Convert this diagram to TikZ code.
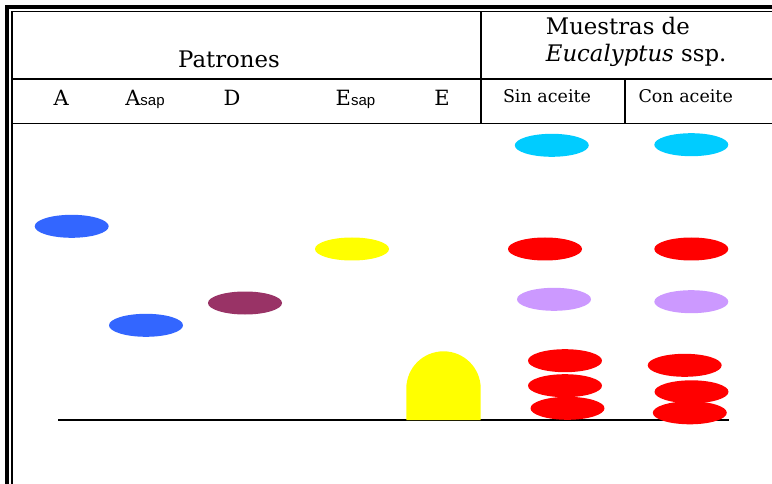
\documentclass[tikz,border=0pt]{standalone}
\usepackage{fontspec}
\setmainfont{DejaVu Serif}
\newfontfamily\sapfont{Liberation Sans}
\usetikzlibrary{shapes.geometric}
\definecolor{spotblue}{HTML}{3366FF}
\definecolor{spotwine}{HTML}{993366}
\definecolor{spotyellow}{HTML}{FFFF00}
\definecolor{spotcyan}{HTML}{00CCFF}
\definecolor{spotred}{HTML}{FF0000}
\definecolor{spotlilac}{HTML}{CC99FF}
\newcommand{\headtxt}{\fontsize{22.8}{26}\selectfont}
\newcommand{\bigtxt}{\fontsize{21}{24}\selectfont}
\newcommand{\smalltxt}{\fontsize{17.5}{20}\selectfont}
\newcommand{\sapsub}{{\sapfont\fontsize{15}{17}\selectfont sap}}
\tikzset{
  spot/.style={ellipse,minimum width=74pt,minimum height=23pt,inner sep=0pt,draw=none},
  rule/.style={line width=1.6pt},
  collabel/.style={anchor=base,inner sep=0pt,font=\bigtxt},
  oillabel/.style={anchor=base,inner sep=0pt,font=\smalltxt}
}

\begin{document}
\begin{tikzpicture}[x=1pt,y=-1pt]
\useasboundingbox (0,0) rectangle (772,484);
\fill[white] (0,0) rectangle (772,484);
% frame
\draw[line width=4pt] (7,490) -- (7,7) -- (780,7);
\draw[line width=1.8pt] (11.8,490) -- (11.8,11.6) -- (780,11.6);
% table rules
\draw[rule] (11.8,79) -- (780,79);
\draw[rule] (11.8,123.5) -- (780,123.5);
\draw[rule] (480.7,11.6) -- (480.7,123.5);
\draw[rule] (625,79) -- (625,123.5);
% headings
\node[anchor=base,inner sep=0pt,font=\headtxt] (pat) at (229,67.7) {Patrones};
\node[anchor=base west,inner sep=0pt,font=\headtxt] (mue) at (545.7,35) {Muestras de};
\node[anchor=base west,inner sep=0pt,font=\headtxt] (euc) at (545.7,61.7) {\textit{Eucalyptus} ssp.};
\node[collabel] (lA) at (61.3,106) {A};
\node[collabel] (lAsap) at (145,106) {A\sapsub};
\node[collabel] (lD) at (232,106) {D};
\node[collabel] (lEsap) at (355.5,106) {E\sapsub};
\node[collabel] (lE) at (442,106) {E};
\node[oillabel] (lsin) at (547,102.3) {Sin aceite};
\node[oillabel] (lcon) at (685.7,102.3) {Con aceite};
% origin line
\coordinate (o1) at (58.3,420);
\coordinate (o2) at (729.3,420);
\draw[rule] (o1) -- (o2);
% standards
\node[spot,fill=spotblue] (sA) at (71.7,226.3) {};
\node[spot,fill=spotblue] (sAsap) at (146,325.3) {};
\node[spot,fill=spotwine] (sD) at (245,303) {};
\node[spot,fill=spotyellow] (sEsap) at (352,249) {};
\fill[spotyellow] (406.3,420) -- (406.3,388.5) arc (180:360:37.2) -- (480.7,420) -- cycle;
% samples without oil
\node[spot,fill=spotcyan] (n1) at (551.8,145.3) {};
\node[spot,fill=spotred] (n2) at (545,249) {};
\node[spot,fill=spotlilac] (n3) at (554,299.3) {};
\node[spot,fill=spotred] (n4) at (565,360.7) {};
\node[spot,fill=spotred] (n5) at (565,385.7) {};
\node[spot,fill=spotred] (n6) at (567.5,408.3) {};
% samples with oil
\node[spot,fill=spotcyan] (c1) at (691.3,144.7) {};
\node[spot,fill=spotred] (c2) at (691.3,249) {};
\node[spot,fill=spotlilac] (c3) at (691.3,301.7) {};
\node[spot,fill=spotred] (c4) at (684.7,365.3) {};
\node[spot,fill=spotred] (c5) at (691.5,391.8) {};
\node[spot,fill=spotred] (c6) at (689.8,412.8) {};
\end{tikzpicture}
\end{document}
